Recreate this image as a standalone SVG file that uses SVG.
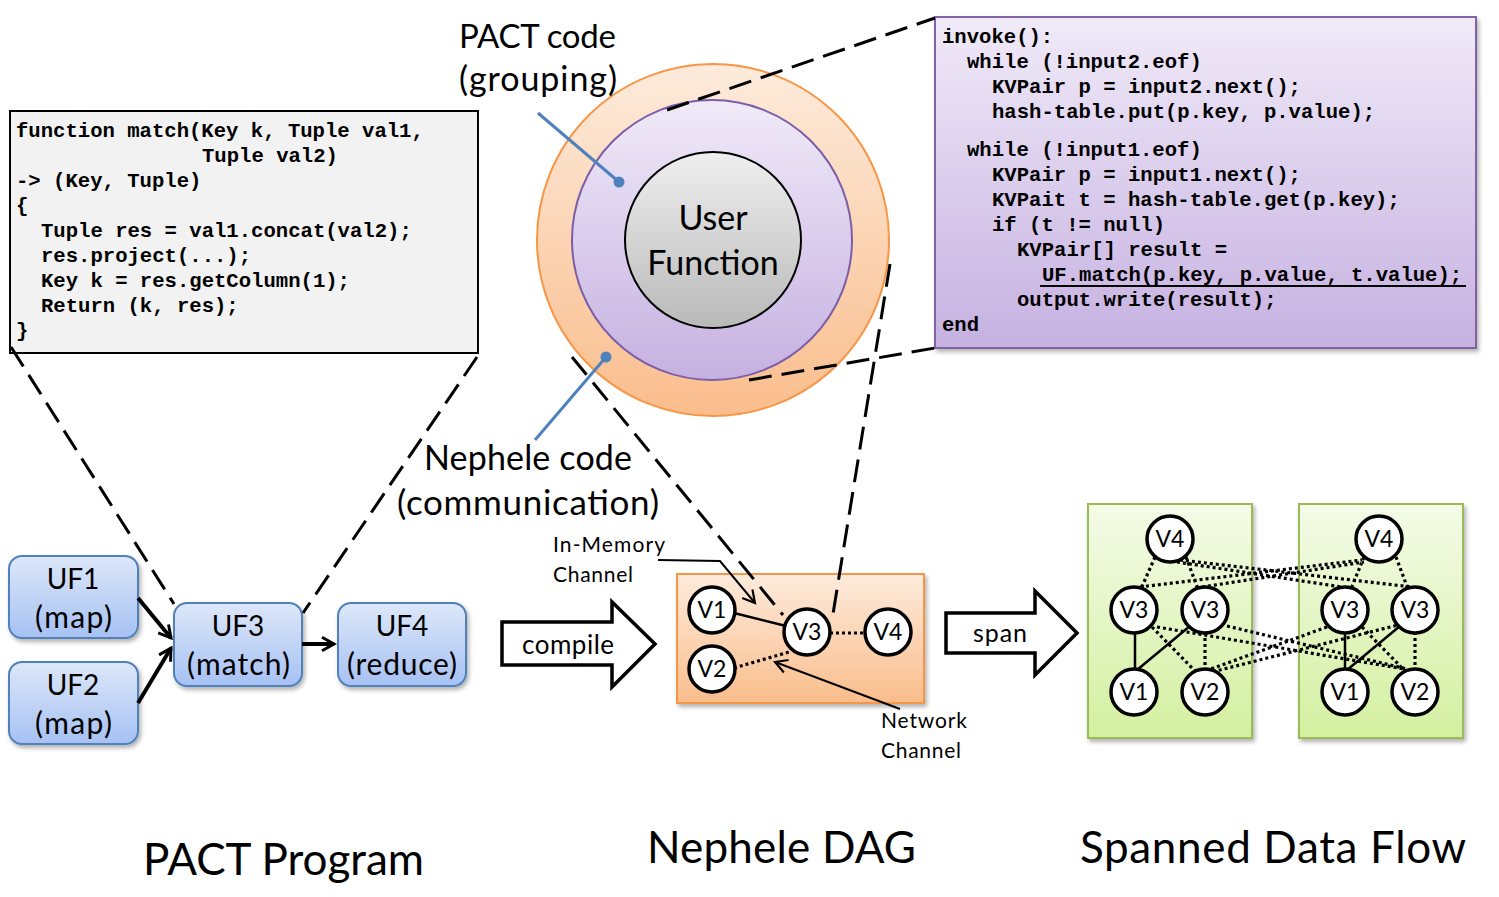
<svg xmlns="http://www.w3.org/2000/svg" width="1499" height="897" viewBox="0 0 1499 897">
<defs>
<linearGradient id="gBlue" x1="0" y1="0" x2="0" y2="1"><stop offset="0" stop-color="#dde7f9"/><stop offset="1" stop-color="#a6c1f3"/></linearGradient>
<linearGradient id="gOrange" x1="0" y1="0" x2="0" y2="1"><stop offset="0" stop-color="#fdebdc"/><stop offset="1" stop-color="#fabd8c"/></linearGradient>
<linearGradient id="gPurple" x1="0" y1="0" x2="0" y2="1"><stop offset="0" stop-color="#f0eaf8"/><stop offset="1" stop-color="#c6b1e1"/></linearGradient>
<linearGradient id="gGray" x1="0" y1="0" x2="0" y2="1"><stop offset="0" stop-color="#efefef"/><stop offset="1" stop-color="#b9b9b9"/></linearGradient>
<linearGradient id="gGreen" x1="0" y1="0" x2="0" y2="1"><stop offset="0" stop-color="#f5fbe8"/><stop offset="1" stop-color="#d3f0a0"/></linearGradient>
<filter id="sh" x="-10%" y="-10%" width="130%" height="130%"><feDropShadow dx="2" dy="3" stdDeviation="2" flood-color="#000" flood-opacity="0.3"/></filter>
<marker id="arr" viewBox="0 0 12 12" refX="10" refY="6" markerWidth="4" markerHeight="4" orient="auto" markerUnits="strokeWidth"><path d="M1,1 L10,6 L1,11" fill="none" stroke="#000" stroke-width="2.2"/></marker>
<marker id="arrT" viewBox="0 0 12 12" refX="10" refY="6" markerWidth="8" markerHeight="8" orient="auto" markerUnits="strokeWidth"><path d="M1,1 L10,6 L1,11" fill="none" stroke="#000" stroke-width="1.6"/></marker>
<style>
.code{font-family:"Liberation Mono","Courier New",monospace;font-weight:bold;font-size:20.6px;fill:#000}
.lbl{font-family:Lato,"Open Sans",sans-serif;fill:#000}
.uf{fill:url(#gBlue);stroke:#4f81bd;stroke-width:2}
.v{fill:#fff;stroke:#000;stroke-width:3.5}
.vt{font-family:Lato,"Open Sans",sans-serif;font-size:23px;text-anchor:middle;fill:#000}
.dash{fill:none;stroke:#000;stroke-width:3;stroke-dasharray:23 10}
.dot{fill:none;stroke:#000;stroke-width:3.2;stroke-dasharray:3 3}
.sol{fill:none;stroke:#000;stroke-width:2.5}
.call{stroke:#4f81bd;stroke-width:3;fill:none}
.ufarr{stroke:#000;stroke-width:4;fill:none;marker-end:url(#arr)}
</style>
</defs>
<rect width="1499" height="897" fill="#fff"/>

<g id="pact-code-box">
<rect x="10" y="111" width="468" height="242" fill="#f2f2f2" stroke="#000" stroke-width="2"/>
<text class="code" x="16" y="137">function match(Key k, Tuple val1,</text>
<text class="code" x="202" y="162">Tuple val2)</text>
<text class="code" x="16" y="187">-&gt; (Key, Tuple)</text>
<text class="code" x="16" y="212">{</text>
<text class="code" x="41" y="237">Tuple res = val1.concat(val2);</text>
<text class="code" x="41" y="262">res.project(...);</text>
<text class="code" x="41" y="287">Key k = res.getColumn(1);</text>
<text class="code" x="41" y="312">Return (k, res);</text>
<text class="code" x="16" y="337">}</text>
</g>

<g id="nephele-code-box">
<rect x="935" y="17" width="541" height="331" fill="url(#gPurple)" stroke="#8064a2" stroke-width="2" filter="url(#sh)"/>
<text class="code" x="942" y="43">invoke():</text>
<text class="code" x="967" y="68">while (!input2.eof)</text>
<text class="code" x="992" y="93">KVPair p = input2.next();</text>
<text class="code" x="992" y="118">hash-table.put(p.key, p.value);</text>
<text class="code" x="967" y="156">while (!input1.eof)</text>
<text class="code" x="992" y="181">KVPair p = input1.next();</text>
<text class="code" x="992" y="206">KVPait t = hash-table.get(p.key);</text>
<text class="code" x="992" y="231">if (t != null)</text>
<text class="code" x="1017" y="256">KVPair[] result =</text>
<text class="code" x="1042" y="281">UF.match(p.key, p.value, t.value);</text>
<line x1="1040" y1="286" x2="1466" y2="286" stroke="#000" stroke-width="2"/>
<text class="code" x="1017" y="306">output.write(result);</text>
<text class="code" x="942" y="331">end</text>
</g>

<g id="circles">
<circle cx="713" cy="240" r="176" fill="url(#gOrange)" stroke="#f79646" stroke-width="2"/>
<circle cx="712" cy="240" r="140" fill="url(#gPurple)" stroke="#7b5ea7" stroke-width="2"/>
<circle cx="713" cy="240" r="88" fill="url(#gGray)" stroke="#000" stroke-width="2"/>
<text class="lbl" x="713" y="230" font-size="34" text-anchor="middle">User</text>
<text class="lbl" x="713" y="275" font-size="34" text-anchor="middle">Function</text>
</g>

<g id="callouts">
<line class="call" x1="538" y1="113" x2="619" y2="182"/>
<circle cx="619" cy="182" r="5.5" fill="#4f81bd"/>
<line class="call" x1="535" y1="440" x2="606" y2="357"/>
<circle cx="606" cy="357" r="5.5" fill="#4f81bd"/>
<text class="lbl" x="459" y="48" font-size="33" textLength="157">PACT code</text>
<text class="lbl" x="459" y="91" font-size="34" textLength="158">(grouping)</text>
<text class="lbl" x="424" y="470" font-size="34" textLength="208">Nephele code</text>
<text class="lbl" x="397" y="515" font-size="35" textLength="262">(communication)</text>
</g>

<g id="uf1"><rect class="uf" x="9" y="556" width="129" height="82" rx="13" filter="url(#sh)"/>
<text class="lbl" x="73" y="589" font-size="28" text-anchor="middle">UF1</text>
<text class="lbl" x="35" y="628" font-size="30" textLength="77">(map)</text></g>
<g id="uf2"><rect class="uf" x="9" y="662" width="129" height="82" rx="13" filter="url(#sh)"/>
<text class="lbl" x="73" y="695" font-size="28" text-anchor="middle">UF2</text>
<text class="lbl" x="35" y="734" font-size="30" textLength="77">(map)</text></g>
<g id="uf3"><rect class="uf" x="174" y="603" width="128" height="83" rx="13" filter="url(#sh)"/>
<text class="lbl" x="238" y="636" font-size="28" text-anchor="middle">UF3</text>
<text class="lbl" x="187" y="675" font-size="30" textLength="103">(match)</text></g>
<g id="uf4"><rect class="uf" x="338" y="603" width="128" height="83" rx="13" filter="url(#sh)"/>
<text class="lbl" x="402" y="636" font-size="28" text-anchor="middle">UF4</text>
<text class="lbl" x="347" y="675" font-size="30" textLength="110">(reduce)</text></g>

<g id="compile-arrow">
<path d="M502,622 L612,622 L612,602 L655,644 L612,687 L612,665 L502,665 Z" fill="#fff" stroke="#000" stroke-width="3.5" stroke-linejoin="miter"/>
<text class="lbl" x="522" y="654" font-size="26" textLength="92">compile</text>
</g>

<g id="nephele-dag">
<rect x="677" y="574" width="247" height="129" fill="url(#gOrange)" stroke="#f79646" stroke-width="2" filter="url(#sh)"/>
</g>

<g id="span-arrow">
<path d="M946,613 L1035,613 L1035,591 L1077,633 L1035,675 L1035,653 L946,653 Z" fill="#fff" stroke="#000" stroke-width="3.5"/>
<text class="lbl" x="973" y="642" font-size="25" textLength="54">span</text>
</g>

<g id="spanned-boxes">
<rect x="1088" y="504" width="164" height="234" fill="url(#gGreen)" stroke="#9bbb59" stroke-width="2" filter="url(#sh)"/>
<rect x="1299" y="504" width="164" height="234" fill="url(#gGreen)" stroke="#9bbb59" stroke-width="2" filter="url(#sh)"/>
</g>

<g id="connectors">
<line class="dash" x1="11" y1="347" x2="174" y2="604"/>
<line class="dash" x1="477" y1="357" x2="303" y2="613"/>
<line class="dash" x1="667" y1="110" x2="935" y2="18"/>
<line class="dash" x1="749" y1="380" x2="935" y2="348"/>
<line class="dash" x1="572" y1="357" x2="783" y2="615"/>
<line class="dash" x1="890" y1="264" x2="832" y2="620"/>
<path class="ufarr" d="M138,598 L171,638"/>
<path class="ufarr" d="M138,703 L171,648"/>
<path class="ufarr" d="M302,644 L334,644"/>
<line class="sol" x1="734" y1="613" x2="786" y2="626"/>
<line class="dot" x1="830" y1="633" x2="866" y2="633"/>
<line class="dot" x1="734" y1="668" x2="789" y2="652"/>
<path d="M658,560 L720,561 L755,603" fill="none" stroke="#000" stroke-width="2" marker-end="url(#arrT)"/>
<path d="M900,709 L775,662" fill="none" stroke="#000" stroke-width="2" marker-end="url(#arrT)"/>
<line class="sol" x1="1135" y1="632" x2="1135" y2="670"/>
<line class="sol" x1="1190" y1="626" x2="1137" y2="670"/>
<line class="dot" x1="1155" y1="557" x2="1141" y2="589"/>
<line class="dot" x1="1186" y1="557" x2="1198" y2="589"/>
<line class="dot" x1="1205" y1="632" x2="1205" y2="670"/>
<line class="dot" x1="1152" y1="627" x2="1195" y2="671"/>
<line class="sol" x1="1345" y1="632" x2="1345" y2="670"/>
<line class="sol" x1="1400" y1="626" x2="1347" y2="670"/>
<line class="dot" x1="1364" y1="557" x2="1351" y2="589"/>
<line class="dot" x1="1396" y1="557" x2="1408" y2="589"/>
<line class="dot" x1="1415" y1="632" x2="1415" y2="670"/>
<line class="dot" x1="1362" y1="627" x2="1405" y2="671"/>
<line class="dot" x1="1140" y1="587" x2="1362" y2="560"/>
<line class="dot" x1="1202" y1="587" x2="1364" y2="562"/>
<line class="dot" x1="1177" y1="562" x2="1342" y2="587"/>
<line class="dot" x1="1180" y1="560" x2="1412" y2="587"/>
<line class="dot" x1="1157" y1="627" x2="1405" y2="669"/>
<line class="dot" x1="1227" y1="626" x2="1407" y2="669"/>
<line class="dot" x1="1327" y1="627" x2="1208" y2="670"/>
<line class="dot" x1="1402" y1="624" x2="1212" y2="672"/>
</g>

<g id="dag-nodes">
<g id="d-v1"><circle class="v" cx="712" cy="610" r="23"/><text class="vt" x="712" y="618">V1</text></g>
<g id="d-v2"><circle class="v" cx="712" cy="669" r="23"/><text class="vt" x="712" y="677">V2</text></g>
<g id="d-v3"><circle class="v" cx="807" cy="632" r="23"/><text class="vt" x="807" y="640">V3</text></g>
<g id="d-v4"><circle class="v" cx="888" cy="632" r="23"/><text class="vt" x="888" y="640">V4</text></g>
</g>

<g id="span-nodes">
<g id="s1-v4"><circle class="v" cx="1170" cy="539" r="23"/><text class="vt" x="1170" y="547">V4</text></g>
<g id="s1-v3a"><circle class="v" cx="1134" cy="610" r="23"/><text class="vt" x="1134" y="618">V3</text></g>
<g id="s1-v3b"><circle class="v" cx="1205" cy="610" r="23"/><text class="vt" x="1205" y="618">V3</text></g>
<g id="s1-v1"><circle class="v" cx="1134" cy="692" r="23"/><text class="vt" x="1134" y="700">V1</text></g>
<g id="s1-v2"><circle class="v" cx="1205" cy="692" r="23"/><text class="vt" x="1205" y="700">V2</text></g>
<g id="s2-v4"><circle class="v" cx="1379" cy="539" r="23"/><text class="vt" x="1379" y="547">V4</text></g>
<g id="s2-v3a"><circle class="v" cx="1345" cy="610" r="23"/><text class="vt" x="1345" y="618">V3</text></g>
<g id="s2-v3b"><circle class="v" cx="1415" cy="610" r="23"/><text class="vt" x="1415" y="618">V3</text></g>
<g id="s2-v1"><circle class="v" cx="1345" cy="692" r="23"/><text class="vt" x="1345" y="700">V1</text></g>
<g id="s2-v2"><circle class="v" cx="1415" cy="692" r="23"/><text class="vt" x="1415" y="700">V2</text></g>
</g>

<g id="labels">
<text class="lbl" x="553" y="552" font-size="21" textLength="112">In-Memory</text>
<text class="lbl" x="553" y="582" font-size="21" textLength="80">Channel</text>
<text class="lbl" x="881" y="728" font-size="21" textLength="86">Network</text>
<text class="lbl" x="881" y="758" font-size="21" textLength="80">Channel</text>
<text class="lbl" x="143" y="875" font-size="44" textLength="281">PACT Program</text>
<text class="lbl" x="647" y="863" font-size="44" textLength="269">Nephele DAG</text>
<text class="lbl" x="1080" y="863" font-size="44" textLength="386">Spanned Data Flow</text>
</g>
</svg>
